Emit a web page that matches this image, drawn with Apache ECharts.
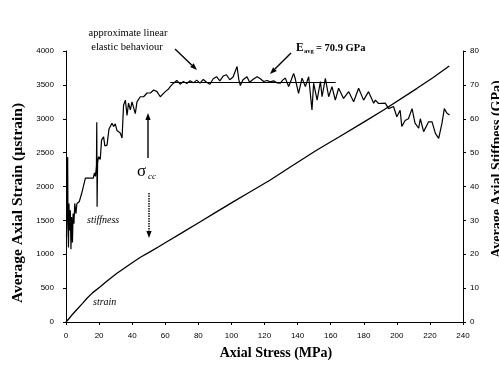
<!DOCTYPE html>
<html>
<head>
<meta charset="utf-8">
<script src="https://cdn.jsdelivr.net/npm/echarts@6/dist/echarts.min.js"></script>
<style>
  html, body { margin: 0; padding: 0; background: #fff; }
  #chart { width: 499px; height: 366px; }
</style>
</head>
<body>
<div id="chart"></div>
<script>
// Axial stress (MPa) vs average axial strain (µstrain)
const strainStress = [0, 2, 4, 6.6, 10, 12.7, 16, 20.7, 25, 30.8, 35, 40.9, 45, 51, 56, 61, 70, 81.2, 90, 101.3, 110.4, 123.5, 137, 151.7, 165, 180, 192, 212.2, 222, 231.7];
const strainValues = [0, 55, 115, 185, 275, 350, 430, 521, 610, 719, 790, 890, 955, 1038, 1110, 1185, 1315, 1480, 1610, 1776, 1908, 2096, 2310, 2539, 2730, 2950, 3129, 3449, 3610, 3779];

// Axial stress (MPa) vs average axial stiffness (GPa)
const stiffStress = [0.3, 0.7, 1.0, 1.2, 1.5, 1.8, 2.2, 2.6, 3.0, 3.4, 3.9, 4.3, 4.8, 5.3, 6.0, 6.6, 8.0, 9.5, 11.0, 11.7, 14, 16.5, 17.2, 17.8, 18.4, 18.6, 18.8, 19.1, 19.7, 20.7, 21.5, 22.7, 23.5, 24.8, 26, 27.8, 28.8, 29.8, 30.8, 32.8, 33.9, 34.8, 35.9, 36.9, 37.8, 38.9, 39.9, 41.9, 42.9, 44.9, 46.9, 49, 51, 53, 55, 57, 60, 62, 63, 65, 67, 69, 71, 73, 75, 77, 79, 81, 83, 85, 87, 89, 91, 93, 95, 97, 99, 101, 103.4, 104.5, 105.4, 107, 109.4, 111, 113, 115.5, 117.5, 119.5, 121.5, 123.5, 125.5, 127.5, 129.6, 131, 132.6, 134.6, 136.2, 137.6, 138.6, 140.6, 142.7, 144.7, 146.7, 148.7, 149.7, 151.8, 153.8, 154.8, 156.8, 158.8, 160.8, 162.8, 164.8, 167.8, 170.9, 173.9, 176.9, 179.9, 182.9, 186, 187, 189, 190, 193, 195, 198, 200, 202, 203, 205, 207, 209.2, 211, 213.2, 214.2, 216.2, 219.2, 221.3, 223.3, 225.3, 227.3, 228.7, 230.3, 231.9];
const stiffValues = [25, 36, 48.7, 30, 22, 35, 27, 33, 21.5, 31, 23.5, 32, 29, 35, 32, 35, 35.5, 38, 41, 42.5, 42.5, 42.5, 44, 43, 46, 59, 34, 47, 48.8, 48, 53.7, 54.7, 52, 52.2, 57, 58.7, 57.7, 58.5, 56.5, 55.8, 54.3, 64, 65.5, 61, 64.6, 62.6, 65, 61.5, 65, 66.5, 66.5, 67.6, 67.6, 68.5, 68, 66.5, 68, 68.8, 69.5, 70.5, 71.3, 70.2, 71.0, 70.4, 71.2, 70.6, 71.4, 70.5, 71.6, 70.8, 70.2, 71.8, 72.4, 71.2, 72.6, 73.0, 71.5, 72.3, 75.4, 71.5, 69.8, 71.5, 72.4, 70.8, 71.6, 72.4, 71.8, 71.0, 71.3, 70.9, 71.2, 70.6, 70.5, 71.4, 72.0, 69.5, 71.5, 73.4, 71.8, 67.5, 72.0, 69.5, 72.4, 62.6, 70.5, 65.5, 71.0, 66.5, 71.9, 66.5, 69.5, 65.5, 69.0, 66.0, 68.0, 65.0, 69.0, 65.5, 68.0, 64.6, 65.5, 64.5, 64.8, 64.6, 63.0, 63.6, 60.6, 62.5, 57.7, 59.5, 60, 63.0, 58.7, 57.2, 60, 56.2, 59.1, 59.1, 55.7, 54.2, 58.7, 63.0, 61.6, 61.1];

// Average stiffness over the linear elastic range
const eAvg = 70.9;
const eAvgRange = [63, 163];

const xTicks = { min: 0, max: 240, interval: 20 };
const strainTicks = { min: 0, max: 4000, interval: 500 };
const stiffTicks = { min: 0, max: 80, interval: 10 };

const pair = (xs, ys) => xs.map((x, i) => [x, ys[i]]);

const serif = '"Liberation Serif", "DejaVu Serif", serif';
const sans = '"Liberation Sans", Arial, sans-serif';

const axisCommon = {
  axisLine: { show: true, lineStyle: { color: '#000', width: 1 } },
  axisTick: { show: true, length: 3, lineStyle: { color: '#000' } },
  splitLine: { show: false },
  axisLabel: { color: '#000', fontFamily: sans, fontSize: 8, formatter: v => String(v) }
};

function arrow(x1, y1, x2, y2, dashed) {
  const ang = Math.atan2(y2 - y1, x2 - x1);
  const L = 7, W = 2.6;
  const bx = x2 - L * Math.cos(ang), by = y2 - L * Math.sin(ang);
  const px = -Math.sin(ang) * W, py = Math.cos(ang) * W;
  return [
    { type: 'line', shape: { x1, y1, x2: bx, y2: by },
      style: { stroke: '#000', lineWidth: 1.4, lineDash: dashed ? [1.5, 1] : null } },
    { type: 'polygon', shape: { points: [[x2, y2], [bx + px, by + py], [bx - px, by - py]] },
      style: { fill: '#000' } }
  ];
}

function txt(x, y, text, size, opts) {
  return { type: 'text', x, y, style: Object.assign({
    text, fill: '#000', fontFamily: serif, fontSize: size,
    align: 'left', verticalAlign: 'middle' }, opts || {}) };
}

const chart = echarts.init(document.getElementById('chart'), null, { renderer: 'canvas' });

chart.setOption({
  animation: false,
  backgroundColor: '#fff',
  grid: { left: 66, right: 36, top: 51, bottom: 44, containLabel: false },
  xAxis: Object.assign({}, axisCommon, {
    type: 'value', min: xTicks.min, max: xTicks.max, interval: xTicks.interval,
    axisLabel: Object.assign({}, axisCommon.axisLabel, { margin: 10 })
  }),
  yAxis: [
    Object.assign({}, axisCommon, {
      type: 'value', min: strainTicks.min, max: strainTicks.max, interval: strainTicks.interval,
      axisLabel: Object.assign({}, axisCommon.axisLabel, { margin: 12 })
    }),
    Object.assign({}, axisCommon, {
      type: 'value', position: 'right', min: stiffTicks.min, max: stiffTicks.max, interval: stiffTicks.interval,
      axisLabel: Object.assign({}, axisCommon.axisLabel, { margin: 7 })
    })
  ],
  series: [
    {
      name: 'strain', type: 'line', yAxisIndex: 0, showSymbol: false,
      data: pair(strainStress, strainValues),
      lineStyle: { color: '#000', width: 1.3 }
    },
    {
      name: 'stiffness', type: 'line', yAxisIndex: 1, showSymbol: false,
      data: pair(stiffStress, stiffValues),
      lineStyle: { color: '#000', width: 1.2 },
      markLine: {
        silent: true, symbol: 'none', label: { show: false },
        lineStyle: { color: '#000', width: 1, type: 'solid' },
        data: [[{ coord: [eAvgRange[0], eAvg] }, { coord: [eAvgRange[1], eAvg] }]]
      }
    }
  ],
  graphic: [
    txt(128, 33, 'approximate linear', 10.5, { align: 'center' }),
    txt(127, 47, 'elastic behaviour', 10.5, { align: 'center' }),
    ...arrow(175, 49, 197, 70, false),
    txt(296, 48, 'E', 11.5, { fontWeight: 'bold' }),
    txt(304, 51.5, 'avg', 6.5, { fontWeight: 'bold' }),
    txt(316, 48, '= 70.9 GPa', 10.5, { fontWeight: 'bold' }),
    ...arrow(291, 53, 270, 74, false),
    txt(137, 172, 'σ', 17),
    txt(148, 177, 'cc', 9, { fontStyle: 'italic' }),
    ...arrow(148, 158, 148, 113, false),
    ...arrow(149, 193, 149, 238, true),
    txt(87, 220, 'stiffness', 10, { fontStyle: 'italic' }),
    txt(93, 302, 'strain', 10, { fontStyle: 'italic' }),
    txt(276, 353, 'Axial Stress (MPa)', 14, { fontWeight: 'bold', align: 'center' }),
    { type: 'text', x: 18, y: 203, rotation: Math.PI / 2,
      style: { text: 'Average Axial Strain (µstrain)', fill: '#000', fontFamily: serif,
               fontSize: 15.5, fontWeight: 'bold', align: 'center', verticalAlign: 'middle' } },
    { type: 'text', x: 497, y: 169, rotation: Math.PI / 2,
      style: { text: 'Average Axial Stiffness (GPa)', fill: '#000', fontFamily: serif,
               fontSize: 14, fontWeight: 'bold', align: 'center', verticalAlign: 'middle' } }
  ]
});
</script>
</body>
</html>
